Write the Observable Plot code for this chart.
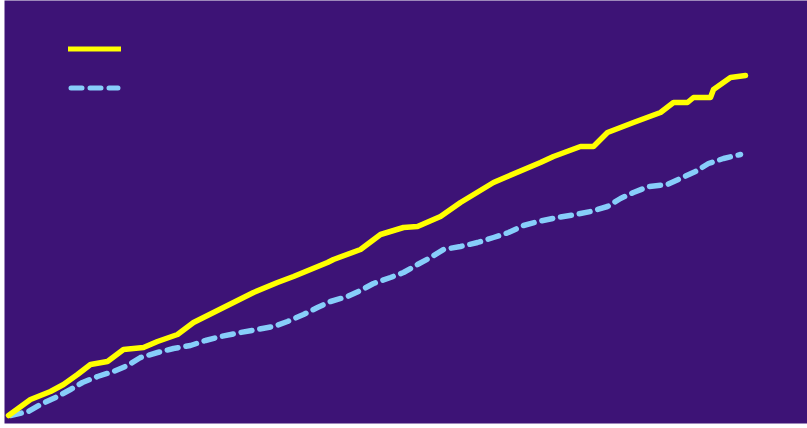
<!DOCTYPE html>
<html><head><meta charset="utf-8">
<script src="https://cdn.jsdelivr.net/npm/d3@7"></script>
<script src="https://cdn.jsdelivr.net/npm/@observablehq/plot@0.6"></script>
<style>
html,body{margin:0;padding:0;background:#fff;}
#wrap{position:relative;width:807px;height:428px;overflow:hidden;}
#legend{position:absolute;left:0;top:0;}
</style></head>
<body><div id="wrap"></div>
<script>
// series (x = step, y = cumulative value)
const yellowX = [4,26,46,59,73,86,103,119,139,153,173,189,209,229,249,273,289,323,329,356,376,399,413,436,456,489,503,536,549,576,589,603,629,656,669,683,689,706,709,726,741];
const yellowY = [8,24,32,39,49,59,62,74,76,82,89,101,111,121,131,141,147,161,164,174,189,196,197,207,221,241,247,261,267,277,277,291,301,311,321,321,326,326,334,346,348];
const blueX = [6,24,36,53,66,78,93,109,123,136,153,169,186,201,216,236,253,269,283,299,313,326,343,356,369,386,399,413,426,439,456,473,489,504,519,534,553,571,586,603,616,629,644,663,678,691,704,719,736];
const blueY = [8,12,19,27,34,41,47,52,58,66,71,75,78,83,87,91,94,97,102,109,116,122,127,133,140,146,151,159,166,174,177,181,186,191,198,202,206,209,212,217,225,231,237,239,246,252,260,265,269];

const yellow = yellowX.map((x,i)=>({x, y: yellowY[i]}));
const blue = blueX.map((x,i)=>({x, y: blueY[i]}));

const bg = "#3d1376";
const chart = Plot.plot({
  width: 807, height: 428,
  marginLeft: 4, marginRight: 0, marginTop: 0, marginBottom: 5,
  x: {domain: [0, 803], axis: null},
  y: {domain: [0, 423], axis: null},
  style: {background: "#fff"},
  marks: [
    Plot.frame({fill: bg, stroke: "none"}),
    Plot.line(blue, {x: "x", y: "y", stroke: "#87cefa", strokeWidth: 5.5, strokeDasharray: "11,8", strokeLinecap: "round", strokeLinejoin: "round"}),
    Plot.line(yellow, {x: "x", y: "y", stroke: "#ffff00", strokeWidth: 5.5, strokeLinejoin: "round"})
  ]
});
const wrap = document.getElementById("wrap");
wrap.appendChild(chart);

// legend swatches (no labels in the reference)
const ns = "http://www.w3.org/2000/svg";
const lg = document.createElementNS(ns, "svg");
lg.setAttribute("id","legend");
lg.setAttribute("width", 200); lg.setAttribute("height", 110);
const entries = [{c:"#ffff00", dash:null, y:49, cap:"butt"},{c:"#87cefa", dash:"11,8", y:88, cap:"round"}];
for (const e of entries) {
  const l = document.createElementNS(ns, "line");
  l.setAttribute("x1", e.cap === "round" ? 71 : 68); l.setAttribute("x2", e.cap === "round" ? 118 : 121);
  l.setAttribute("y1", e.y); l.setAttribute("y2", e.y);
  l.setAttribute("stroke", e.c); l.setAttribute("stroke-width", 5);
  l.setAttribute("stroke-linecap", e.cap);
  if (e.dash) l.setAttribute("stroke-dasharray", e.dash);
  lg.appendChild(l);
}
wrap.appendChild(lg);
</script></body></html>
